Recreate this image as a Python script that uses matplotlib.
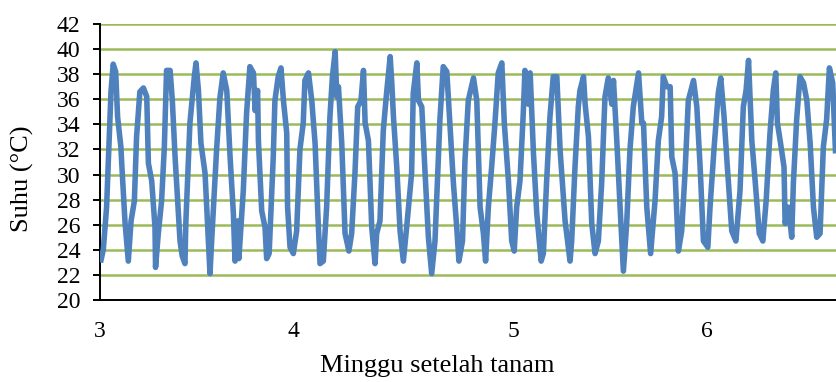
import numpy as np
import matplotlib.pyplot as plt

# hari sejak awal minggu ke-3 (posisi pada sumbu) dan suhu (oC)
hari = [0.04, 0.12, 0.24, 0.33, 0.40, 0.48, 0.57, 0.64, 0.76, 0.79, 0.91,
        1.03, 1.13, 1.25, 1.33, 1.45, 1.58, 1.70, 1.76, 1.88, 2.00, 2.02, 2.12,
        2.24, 2.34, 2.42, 2.55, 2.63, 2.73, 2.91, 2.99, 3.09, 3.12,
        3.27, 3.43, 3.49, 3.58, 3.67, 3.82, 3.94, 4.00, 4.06,
        4.24, 4.36, 4.48, 4.61, 4.67, 4.73, 4.85, 4.91, 5.01, 5.05,
        5.21, 5.33, 5.45, 5.58, 5.64, 5.73, 5.76, 5.88, 6.00, 6.06, 6.15,
        6.30, 6.36, 6.48, 6.58, 6.67, 6.79, 6.82, 6.91, 7.03, 7.15,
        7.27, 7.39, 7.45, 7.58, 7.70, 7.82, 7.92, 8.00, 8.12,
        8.24, 8.36, 8.45, 8.55, 8.61, 8.67, 8.79, 8.91, 9.05, 9.15,
        9.27, 9.37, 9.49, 9.58, 9.64, 9.76, 9.88, 10.00, 10.06, 10.18,
        10.30, 10.42, 10.55, 10.61, 10.67, 10.79, 10.91, 11.03, 11.15,
        11.33, 11.39, 11.52, 11.58, 11.70, 11.82, 11.94, 12.06, 12.18,
        12.36, 12.48, 12.61, 12.73, 12.85, 12.97, 13.05, 13.18,
        13.27, 13.39, 13.58, 13.70, 13.82, 13.94, 14.02, 14.12,
        14.24, 14.36, 14.48, 14.61, 14.70, 14.85, 14.97, 15.06, 15.15,
        15.27, 15.39, 15.45, 15.58, 15.64, 15.76, 15.88, 16.04, 16.12,
        16.24, 16.36, 16.48, 16.61, 16.73, 16.91, 17.09, 17.15,
        17.27, 17.39, 17.45, 17.58, 17.64, 17.76, 17.88, 18.00, 18.12,
        18.24, 18.36, 18.48, 18.61, 18.67, 18.79, 18.91, 19.03, 19.15,
        19.27, 19.39, 19.58, 19.70, 19.76, 19.88, 20.02, 20.18,
        20.30, 20.42, 20.48, 20.61, 20.73, 20.79, 20.91, 21.03, 21.15,
        21.27, 21.39, 21.58, 21.70, 21.82, 21.94, 22.10, 22.18,
        22.33, 22.48, 22.57, 22.69, 22.81, 22.97, 23.12, 23.27,
        23.39, 23.49, 23.58, 23.70, 23.82, 23.97, 24.10, 24.22,
        24.36, 24.48, 24.57, 24.63, 24.73, 24.87, 24.91, 25.03, 25.15, 25.21,
        25.33, 25.45, 25.58, 25.70, 25.82, 25.94, 26.06, 26.18,
        26.30, 26.42, 26.52, 26.64, 26.74]
suhu = [23.2, 24.0, 27.4, 32.5, 36.6, 38.8, 38.2, 34.6, 32.2, 30.9, 26.2,
        23.1, 26.3, 27.9, 33.0, 36.6, 36.9, 36.2, 30.9, 29.5, 25.8, 22.6, 25.3,
        27.9, 32.2, 38.3, 38.3, 35.9, 31.4, 24.7, 23.5, 22.9, 26.1,
        34.1, 37.8, 38.9, 36.7, 32.5, 30.1, 24.7, 22.1, 24.7,
        32.0, 36.1, 38.1, 36.7, 34.1, 31.4, 26.9, 23.1, 26.3, 23.3,
        28.7, 34.9, 38.6, 38.1, 35.1, 36.7, 32.7, 27.1, 25.8, 23.3, 23.7,
        31.4, 35.9, 37.8, 38.5, 35.9, 33.3, 27.4, 24.2, 23.7, 25.5,
        32.0, 34.1, 37.5, 38.1, 35.9, 32.5, 26.9, 22.9, 23.1,
        27.4, 34.6, 37.8, 39.8, 36.2, 37.0, 32.5, 25.3, 23.9, 25.3,
        30.1, 35.4, 35.9, 38.3, 34.1, 32.7, 25.8, 22.9, 25.3, 26.3,
        33.5, 36.5, 39.4, 37.3, 34.6, 30.6, 25.5, 23.1, 25.8,
        30.1, 36.5, 38.9, 35.9, 35.4, 30.1, 25.0, 22.1, 24.7,
        34.4, 38.6, 38.2, 33.8, 29.3, 25.8, 23.1, 24.7,
        31.1, 35.9, 37.7, 35.9, 27.4, 25.3, 23.1, 27.4,
        30.6, 34.1, 38.1, 38.9, 34.1, 29.5, 24.7, 23.9, 27.4,
        29.5, 34.9, 38.3, 35.6, 38.1, 31.7, 26.9, 23.1, 23.7,
        29.5, 34.6, 37.8, 37.8, 31.9, 26.3, 23.1, 24.7,
        30.6, 35.4, 36.7, 37.8, 35.6, 33.0, 26.1, 23.7, 24.7,
        29.3, 36.2, 37.7, 35.6, 37.5, 32.7, 27.4, 22.3, 26.1,
        32.0, 35.4, 38.1, 34.1, 34.1, 27.4, 23.7, 27.9,
        32.7, 34.6, 37.8, 37.0, 37.0, 31.4, 30.1, 23.9, 25.5,
        30.1, 35.9, 37.5, 35.4, 30.6, 24.7, 24.2, 27.4,
        32.2, 36.5, 37.7, 34.6, 30.6, 25.5, 24.7, 28.7,
        35.4, 36.7, 39.1, 32.7, 29.5, 25.3, 24.7, 27.9,
        33.3, 36.7, 38.1, 34.1, 32.7, 30.6, 26.1, 27.4, 25.0, 29.3,
        34.4, 37.8, 37.3, 35.9, 32.5, 27.4, 25.0, 25.3,
        32.2, 34.4, 38.5, 37.3, 31.9]

minggu_pos = [0, 7.02, 15.05, 22.07]
minggu_label = ['3', '4', '5', '6']

plt.rcParams['font.family'] = ['Liberation Serif', 'DejaVu Serif']

fig = plt.figure(figsize=(8.36, 3.82), dpi=100)
ax = fig.add_axes([0.1196, 0.2147, 0.8804, 0.7225])

ax.plot(hari, suhu, color='#4F81BD', lw=4.0, solid_joinstyle='round', zorder=3)

ax.set_ylim(20, 42)
ax.set_yticks(np.arange(20, 43, 2))
ax.set_xlim(0, 26.76)
ax.set_xticks(minggu_pos)
ax.set_xticklabels(minggu_label)
ax.yaxis.grid(True, color='#9BBB59', lw=1.8)
ax.set_axisbelow(True)

for s in ['top', 'right']:
    ax.spines[s].set_visible(False)
ax.spines['left'].set_linewidth(1.4)
ax.spines['bottom'].set_linewidth(1.4)
ax.tick_params(axis='y', direction='out', length=5, width=1.4, labelsize=17, pad=9)
ax.tick_params(axis='x', length=0, labelsize=17, pad=15)

ax.set_ylabel('Suhu (°C)', fontsize=19)
ax.yaxis.set_label_coords(-0.09, 0.44)
ax.set_xlabel('Minggu setelah tanam', fontsize=19)
ax.xaxis.set_label_coords(0.458, -0.2)

fig.savefig('out.png', dpi=100)
